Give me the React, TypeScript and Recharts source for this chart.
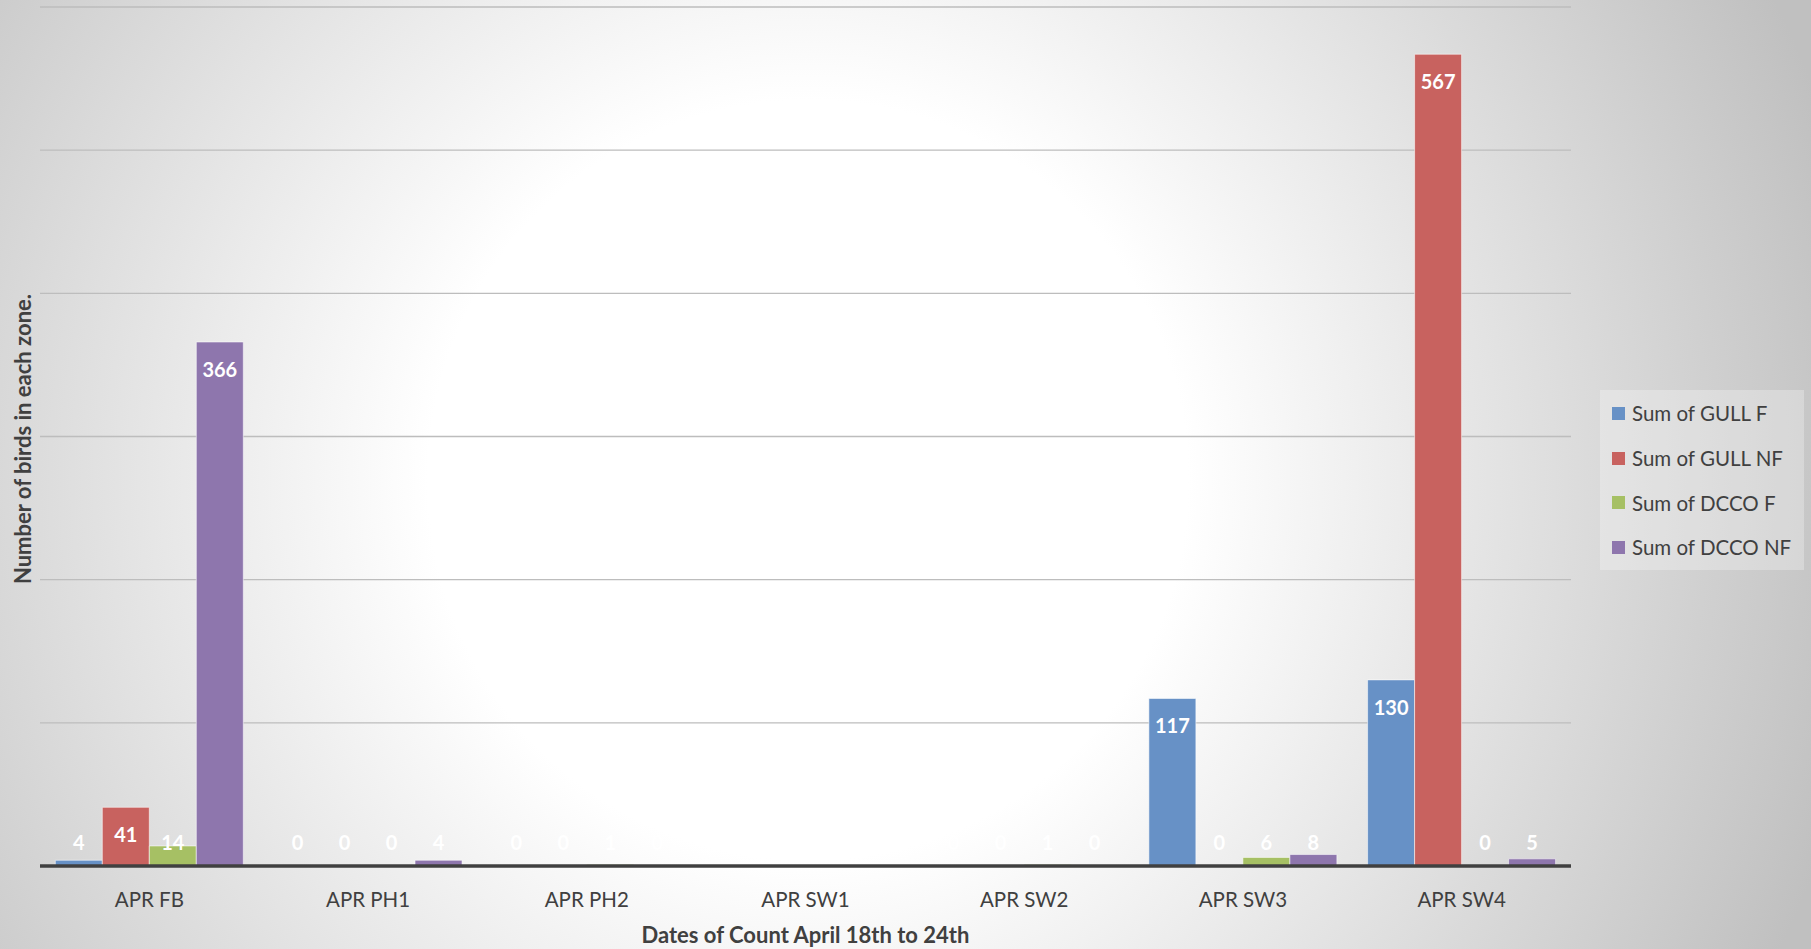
import { BarChart, Bar, XAxis, YAxis, CartesianGrid, LabelList, Cell } from 'recharts';

const zones = ['APR FB', 'APR PH1', 'APR PH2', 'APR SW1', 'APR SW2', 'APR SW3', 'APR SW4'];
const gullF = [4, 0, 0, 0, 0, 117, 130];
const gullNF = [41, 0, 0, 0, 0, 0, 567];
const dccoF = [14, 0, 1, 0, 1, 6, 0];
const dccoNF = [366, 4, 0, 0, 0, 8, 5];
const yTicks = [0, 100, 200, 300, 400, 500, 600];

const series = [
  { key: 'gullF', name: 'Sum of GULL F', color: '#6791C6', values: gullF },
  { key: 'gullNF', name: 'Sum of GULL NF', color: '#C8625F', values: gullNF },
  { key: 'dccoF', name: 'Sum of DCCO F', color: '#A6C064', values: dccoF },
  { key: 'dccoNF', name: 'Sum of DCCO NF', color: '#8E76AD', values: dccoNF },
];

const data = zones.map((zone, i) => ({
  zone,
  gullF: gullF[i],
  gullNF: gullNF[i],
  dccoF: dccoF[i],
  dccoNF: dccoNF[i],
}));

const FONT = 'Lato, "Open Sans", sans-serif';

// Excel style "inside end" label, pushed up above tiny bars
const renderLabel = (props: any) => {
  const { x, y, width, height, value } = props;
  const cy = Math.min(y + 27, y + height - 24);
  return (
    <text x={x + width / 2} y={cy} fill="#ffffff" fontSize={20} fontWeight={700}
      fontFamily={FONT} textAnchor="middle" dominantBaseline="central">
      {String(value)}
    </text>
  );
};

// zero bars get a hair of height so recharts still hands them to the labels
const minSize = (v: any) => (v === 0 ? 0.01 : 0);

export default function App() {
  return (
    <div style={{
      position: 'absolute', left: 0, top: 0, width: 1811, height: 949, overflow: 'hidden',
      background: 'radial-gradient(circle at 808px 480px, #ffffff 0px, #ffffff 380px, #c0c0c0 1080px)',
    }}>
      <BarChart width={1811} height={949} data={data}
        margin={{ top: 7, right: 240, left: 40, bottom: 23 }}
        barCategoryGap="7%" barGap={0}>
        <CartesianGrid vertical={false} stroke="#bdbdbd" strokeWidth={1.3} />
        <XAxis dataKey="zone" height={60} tickLine={false} tickMargin={20}
          axisLine={{ stroke: '#404040', strokeWidth: 3.5 }}
          tick={{ fontSize: 20.5, fill: '#404040', fontFamily: FONT }} />
        <YAxis hide domain={[0, 600]} ticks={yTicks} />
        {series.map((s) => (
          <Bar key={s.key} dataKey={s.key} name={s.name} fill={s.color} minPointSize={minSize}
            stroke="rgba(255,255,255,0.55)" strokeWidth={1} isAnimationActive={false}>
            {s.values.map((v, i) => (
              <Cell key={i} stroke={v === 0 ? 'none' : 'rgba(255,255,255,0.55)'} />
            ))}
            <LabelList dataKey={(d: any) => String(d[s.key])} content={renderLabel} />
          </Bar>
        ))}
      </BarChart>
      <div style={{
        position: 'absolute', left: 1600, top: 390, width: 204, height: 180, boxSizing: 'border-box',
        background: 'rgba(255,255,255,0.28)', padding: '1px 0 0 12px',
        fontFamily: FONT, fontSize: 20.5, color: '#404040',
      }}>
        {series.map((s) => (
          <div key={s.key} style={{ display: 'flex', alignItems: 'center', height: 44.7, whiteSpace: 'nowrap' }}>
            <span style={{ width: 13, height: 13, background: s.color, marginRight: 7, display: 'inline-block' }} />
            {s.name}
          </div>
        ))}
      </div>
      <div style={{
        position: 'absolute', left: 40, width: 1531, top: 921, textAlign: 'center',
        fontFamily: FONT, fontWeight: 700, fontSize: 22, color: '#404040',
      }}>
        Dates of Count April 18th to 24th
      </div>
      <div style={{ position: 'absolute', left: 22, top: 439, width: 0, height: 0 }}>
        <div style={{
          position: 'absolute', left: 0, top: 0, transform: 'translate(-50%, -50%) rotate(-90deg)',
          whiteSpace: 'nowrap', fontFamily: FONT, fontWeight: 700, fontSize: 22, color: '#404040',
        }}>
          Number of birds in each zone.
        </div>
      </div>
    </div>
  );
}
